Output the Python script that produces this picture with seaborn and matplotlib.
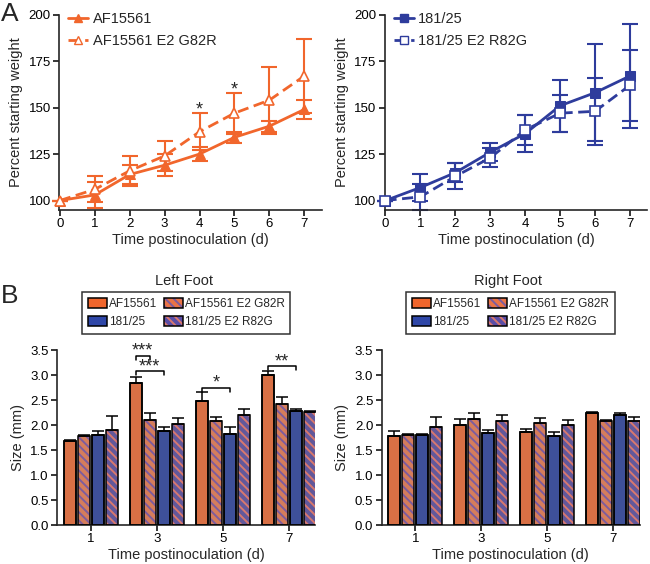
import numpy as np
import pandas as pd
import matplotlib
matplotlib.use('Agg')
import matplotlib.pyplot as plt
import seaborn as sns
from matplotlib.patches import Patch, Rectangle
from matplotlib.lines import Line2D

# ---- weight curves (panel A)
days = [0, 1, 2, 3, 4, 5, 6, 7]
af_mean = [100, 103, 114, 119, 125, 134, 140, 149]
af_sem = [0, 7, 5, 6, 4, 3, 3, 5]
g82r_mean = [100, 106, 116, 124, 137, 147, 154, 167]
g82r_sem = [0, 7, 8, 8, 10, 11, 18, 20]
s181_mean = [100, 107, 115, 126, 136, 151, 158, 167]
s181_sem = [0, 7, 5, 5, 10, 14, 26, 28]
r82g_mean = [100, 102, 113, 123, 138, 147, 148, 162]
r82g_sem = [0, 7, 7, 5, 8, 10, 18, 19]
star_days = [4, 5]

# ---- foot size (panel B)
foot_days = ['1', '3', '5', '7']
strains = ['AF15561', 'AF15561 E2 G82R', '181/25', '181/25 E2 R82G']
left_mean = {
    'AF15561': [1.68, 2.85, 2.49, 3.01],
    'AF15561 E2 G82R': [1.78, 2.11, 2.08, 2.43],
    '181/25': [1.81, 1.89, 1.82, 2.29],
    '181/25 E2 R82G': [1.90, 2.02, 2.21, 2.27],
}
left_sem = {
    'AF15561': [0.02, 0.12, 0.17, 0.08],
    'AF15561 E2 G82R': [0.02, 0.13, 0.08, 0.14],
    '181/25': [0.08, 0.08, 0.14, 0.04],
    '181/25 E2 R82G': [0.28, 0.12, 0.12, 0.01],
}
right_mean = {
    'AF15561': [1.79, 2.01, 1.87, 2.25],
    'AF15561 E2 G82R': [1.81, 2.12, 2.05, 2.09],
    '181/25': [1.80, 1.85, 1.78, 2.20],
    '181/25 E2 R82G': [1.97, 2.08, 2.01, 2.09],
}
right_sem = {
    'AF15561': [0.10, 0.12, 0.05, 0.02],
    'AF15561 E2 G82R': [0.01, 0.12, 0.10, 0.02],
    '181/25': [0.02, 0.06, 0.09, 0.04],
    '181/25 E2 R82G': [0.20, 0.12, 0.09, 0.08],
}
# (group, bar a, bar b, height, label)
left_sig = [(1, 0, 1, 3.39, '***'), (1, 0, 2, 3.08, '***'),
            (2, 0, 2, 2.75, '*'), (3, 0, 2, 3.18, '**')]

ORANGE = '#F1662C'
BLUE = '#2E3C9C'
face = {'AF15561': ORANGE, 'AF15561 E2 G82R': '#EA7446',
        '181/25': '#2F47A8', '181/25 E2 R82G': '#5A4DA6'}
hatchc = {'AF15561 E2 G82R': '#7D5C9E', '181/25 E2 R82G': '#D8786E'}
HATCH = '\\\\\\\\'

sns.set_style('ticks')
plt.rcParams['font.family'] = ['Liberation Sans', 'DejaVu Sans']
plt.rcParams['hatch.linewidth'] = 1.4

fig = plt.figure(figsize=(6.5, 5.64), dpi=100)


def style_axes(ax):
    sns.despine(ax=ax)
    for s in ['left', 'bottom']:
        ax.spines[s].set_linewidth(1.2)
    ax.tick_params(width=1.1, length=4, labelsize=9.5, colors='black', pad=2)


def weight_panel(rect, m1, e1, m2, e2, color, marker, names, stars=()):
    ax = fig.add_axes(rect)
    df = pd.DataFrame({'day': days * 2, 'weight': m1 + m2,
                       'strain': [names[0]] * len(days) + [names[1]] * len(days)})
    sns.lineplot(data=df, x='day', y='weight', hue='strain', style='strain',
                 palette=[color, color], dashes=[(None, None), (4, 2)],
                 markers=[marker, marker], markersize=7, linewidth=2,
                 markeredgecolor=color, legend=False, ax=ax, clip_on=False)
    lines = ax.get_lines()
    lines[1].set_markerfacecolor('white')
    lines[1].set_markeredgewidth(1.2)
    lines[1].set_zorder(4)
    for m, e in [(m1, e1), (m2, e2)]:
        ax.errorbar(days, m, yerr=e, fmt='none', ecolor=color, elinewidth=1.5,
                    capsize=6, capthick=1.5, clip_on=False)
    for d in stars:
        ax.text(d, m2[d] + e2[d] + 1.5, '*', ha='center', va='center', fontsize=13)
    ax.set_xlim(-0.02, 7.5)
    ax.set_ylim(95, 200)
    ax.set_xticks(days)
    ax.set_yticks([100, 125, 150, 175, 200])
    ax.set_xlabel('Time postinoculation (d)', fontsize=10.5, labelpad=2)
    ax.set_ylabel('Percent starting weight', fontsize=10.5, labelpad=4)
    style_axes(ax)
    handles = [Line2D([], [], color=color, lw=2, marker=marker, ms=6),
               Line2D([], [], color=color, lw=2, marker=marker, ms=6,
                      markerfacecolor='white', ls=(0, (4, 2)))]
    ax.legend(handles, names, loc='upper left', bbox_to_anchor=(0.0, 1.06),
              frameon=False, fontsize=10.5, handlelength=1.4, handletextpad=0.3,
              labelspacing=0.55, borderaxespad=0.2)
    return ax


weight_panel([0.091, 0.628, 0.404, 0.346], af_mean, af_sem, g82r_mean, g82r_sem,
             ORANGE, '^', ['AF15561', 'AF15561 E2 G82R'], star_days)
weight_panel([0.592, 0.628, 0.404, 0.346], s181_mean, s181_sem, r82g_mean, r82g_sem,
             BLUE, 's', ['181/25', '181/25 E2 R82G'])


def foot_panel(rect, means, sems, title, sig=()):
    ax = fig.add_axes(rect)
    df = pd.DataFrame({
        'day': foot_days * len(strains),
        'size': sum([means[s] for s in strains], []),
        'strain': [s for s in strains for _ in foot_days],
    })
    sns.barplot(data=df, x='day', y='size', hue='strain', hue_order=strains,
                palette=face, errorbar=None, gap=0.12, width=0.85,
                legend=False, ax=ax)
    centers = {}
    for s, cont in zip(strains, ax.containers):
        xs, tops = [], []
        for p in cont.patches:
            if s in hatchc:
                p.set_hatch(HATCH)
                p.set_edgecolor(hatchc[s])
                p.set_linewidth(0)
            else:
                p.set_edgecolor('black')
                p.set_linewidth(1.1)
            ax.add_patch(Rectangle(p.get_xy(), p.get_width(), p.get_height(),
                                   fill=False, edgecolor='black', lw=1.1, zorder=3))
            xs.append(p.get_x() + p.get_width() / 2)
            tops.append(p.get_height())
        centers[s] = xs
        ax.errorbar(xs, tops, yerr=[np.zeros(len(xs)), sems[s]], fmt='none',
                    ecolor='black', elinewidth=1.1, capsize=4, capthick=1.1, zorder=2)
    for g, a, b, h, lab in sig:
        xa = centers[strains[a]][g]
        xb = centers[strains[b]][g]
        ax.plot([xa, xa, xb, xb], [h - 0.08, h, h, h - 0.08], color='black', lw=1.1,
                clip_on=False)
        ax.text((xa + xb) / 2, h + 0.09, lab, ha='center', va='center', fontsize=13)
    ax.set_xlim(-0.51, 3.40)
    ax.set_ylim(0, 3.5)
    ax.set_yticks(np.arange(0, 3.51, 0.5))
    ax.set_yticklabels([f'{v:.1f}' for v in np.arange(0, 3.51, 0.5)])
    ax.set_xlabel('Time postinoculation (d)', fontsize=10.5, labelpad=2)
    ax.set_ylabel('Size (mm)', fontsize=10.5, labelpad=4)
    style_axes(ax)
    ax.text(0.49, 1.395, title, transform=ax.transAxes, ha='center', va='center',
            fontsize=10.5)
    handles = []
    for s in strains:
        if s in hatchc:
            handles.append((Patch(facecolor=face[s], edgecolor=hatchc[s], hatch=HATCH, lw=0),
                            Patch(fill=False, edgecolor='black', lw=1.1)))
        else:
            handles.append(Patch(facecolor=face[s], edgecolor='black', lw=1.1))
    order = [0, 2, 1, 3]
    leg = ax.legend([handles[i] for i in order], [strains[i] for i in order],
                    loc='lower center', bbox_to_anchor=(0.5, 1.06), ncol=2,
                    fontsize=8.5, frameon=True, fancybox=False, edgecolor='black',
                    handlelength=1.6, handleheight=0.9, handletextpad=0.15,
                    columnspacing=0.6, labelspacing=0.5, borderpad=0.5)
    leg.get_frame().set_linewidth(1.1)
    return ax


foot_panel([0.088, 0.069, 0.397, 0.310], left_mean, left_sem, 'Left Foot', left_sig)
foot_panel([0.587, 0.069, 0.397, 0.310], right_mean, right_sem, 'Right Foot')

fig.text(0.002, 0.997, 'A', fontsize=19, va='top', ha='left')
fig.text(0.002, 0.497, 'B', fontsize=19, va='top', ha='left')

plt.savefig('out.png', dpi=100)
